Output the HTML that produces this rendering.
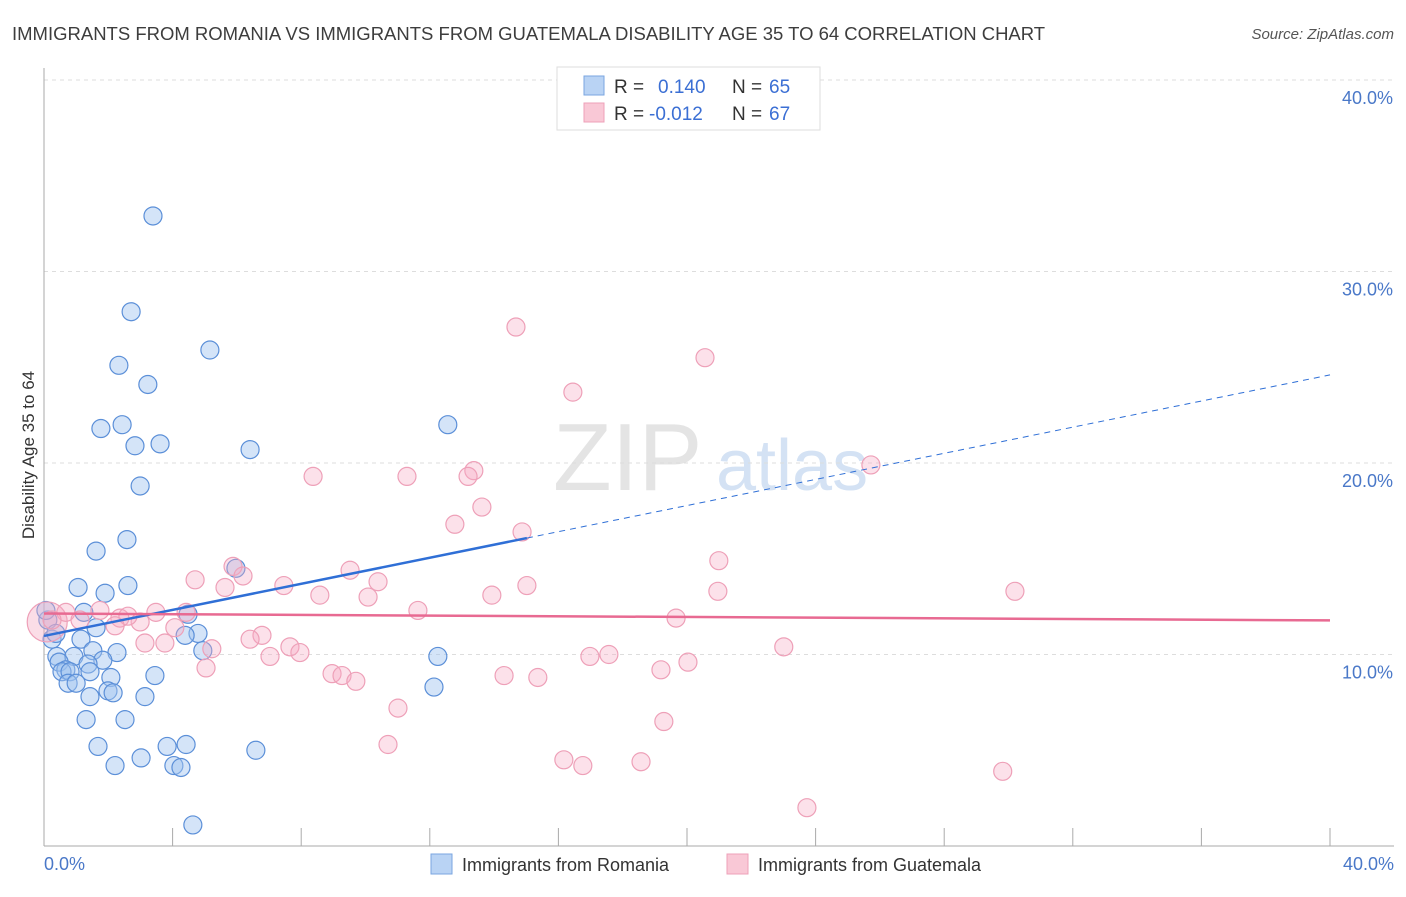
<!DOCTYPE html>
<html><head><meta charset="utf-8"><style>
body{margin:0;background:#fff;font-family:"Liberation Sans",sans-serif;}
svg text{font-family:"Liberation Sans",sans-serif;}
</style></head><body>
<svg id="chart" width="1406" height="892">
<text x="12" y="40" font-size="18.5" fill="#3d3d3d">IMMIGRANTS FROM ROMANIA VS IMMIGRANTS FROM GUATEMALA DISABILITY AGE 35 TO 64 CORRELATION CHART</text>
<text x="1394" y="39" font-size="15" fill="#555" text-anchor="end" font-style="italic">Source: ZipAtlas.com</text>
<g>
<text x="553" y="490" font-size="96" font-family="Liberation Serif" fill="#e4e4e4">ZIP</text>
<text x="716" y="490" font-size="72" fill="#d4e2f4">atlas</text>
</g>
<g id="grid"></g>
<g id="axes"></g>
<g id="blue"></g>
<g id="pink"></g>
<g id="lines"></g>
<text x="34" y="455" font-size="17" fill="#333" text-anchor="middle" transform="rotate(-90 34 455)">Disability Age 35 to 64</text>
<text x="44" y="870" font-size="18" fill="#4a78c8">0.0%</text>
<text x="1394" y="870" font-size="18" fill="#4a78c8" text-anchor="end">40.0%</text>
<g>
<rect x="557" y="67" width="263" height="63" fill="#fff" stroke="#ddd"/>
<rect x="584" y="76" width="20" height="19" fill="#b9d3f4" stroke="#7aa6e0"/>
<rect x="584" y="103" width="20" height="19" fill="#f9c8d6" stroke="#eea0b8"/>
<text x="614" y="93" font-size="19" fill="#333">R = </text><text x="658" y="93" font-size="19" fill="#3b6fd4">0.140</text>
<text x="732" y="93" font-size="19" fill="#333">N = </text><text x="769" y="93" font-size="19" fill="#3b6fd4">65</text>
<text x="614" y="120" font-size="19" fill="#333">R = </text><text x="649" y="120" font-size="19" fill="#3b6fd4">-0.012</text>
<text x="732" y="120" font-size="19" fill="#333">N = </text><text x="769" y="120" font-size="19" fill="#3b6fd4">67</text>
</g>
<g>
<rect x="431" y="854" width="21" height="20" fill="#b9d3f4" stroke="#7aa6e0"/>
<text x="462" y="871" font-size="18" fill="#333">Immigrants from Romania</text>
<rect x="727" y="854" width="21" height="20" fill="#f9c8d6" stroke="#eea0b8"/>
<text x="758" y="871" font-size="18" fill="#333">Immigrants from Guatemala</text>
</g>
</svg>
<script>
const yTicks=[10,20,30,40];
const yTickLabels=["10.0%","20.0%","30.0%","40.0%"];
const xTicks=[0,4,8,12,16,20,24,28,32,36,40];
const blueX=[3.39,2.71,5.16,2.33,3.23,2.43,1.77,3.61,2.83,6.41,12.56,2.99,1.62,2.58,2.61,1.06,1.90,5.97,1.24,4.48,1.62,0.12,0.25,1.15,4.79,4.39,2.27,1.52,0.40,0.93,1.83,0.47,1.37,0.68,0.56,0.81,2.08,1.43,0.75,1.00,1.99,2.15,1.43,3.14,12.25,12.13,1.31,2.52,1.68,3.83,4.42,2.21,3.02,4.04,4.26,6.59,4.63,4.94,0.06,0.37,3.45];
const blueY=[32.9,27.9,25.9,25.1,24.1,22.0,21.8,21.0,20.9,20.7,22.0,18.8,15.4,16.0,13.6,13.5,13.2,14.5,12.2,12.1,11.4,11.8,10.8,10.8,11.1,11.0,10.1,10.2,9.9,9.9,9.7,9.6,9.5,9.2,9.1,9.1,8.8,9.1,8.5,8.5,8.1,8.0,7.8,7.8,9.9,8.3,6.6,6.6,5.2,5.2,5.3,4.2,4.6,4.2,4.1,5.0,1.1,10.2,12.3,11.1,8.9];
const pinkX=[14.68,20.56,16.45,8.37,11.29,13.37,13.19,25.72,13.62,12.78,14.87,20.99,5.88,6.19,9.52,4.70,7.46,10.39,15.02,5.63,8.58,10.08,13.93,20.96,30.20,11.63,3.48,4.42,1.74,0.68,0.25,2.36,2.99,2.61,4.07,6.78,6.41,3.14,3.76,5.22,7.65,7.96,7.03,5.04,16.98,17.57,23.01,19.66,20.03,19.19,8.96,9.27,9.70,14.31,15.36,11.01,19.28,10.70,16.17,16.76,18.57,29.82,23.73,1.12,2.21];
const pinkY=[27.1,25.5,23.7,19.3,19.3,19.6,19.3,19.9,17.7,16.8,16.4,14.9,14.6,14.1,14.4,13.9,13.6,13.8,13.6,13.5,13.1,13.0,13.1,13.3,13.3,12.3,12.2,12.2,12.3,12.2,11.8,11.9,11.7,12.0,11.4,11.0,10.8,10.6,10.6,10.3,10.4,10.1,9.9,9.3,9.9,10.0,10.4,11.9,9.6,9.2,9.0,8.9,8.6,8.9,8.8,7.2,6.5,5.3,4.5,4.2,4.4,3.9,2.0,11.8,11.5];
const bigPink=[0.1,11.7];
const blueTrend=[10.97,16.08,24.6]; // at x=0, x=15.02, x=40
const blueSolidEnd=15.02;
const pinkTrend=[12.14,11.78];
const NS="http://www.w3.org/2000/svg";
const X=v=>44+v/40*1286, Y=v=>846-v*19.15;
function mk(tag,attrs,parent){const e=document.createElementNS(NS,tag);for(const k in attrs)e.setAttribute(k,attrs[k]);parent.appendChild(e);return e;}
const grid=document.getElementById('grid'),axes=document.getElementById('axes');
yTicks.forEach((t,i)=>{
 const l=mk('line',{x1:44,x2:1394,y1:Y(t),y2:Y(t),stroke:'#ddd','stroke-dasharray':'4,4'},grid);
 
 
 const tx=mk('text',{x:1393,y:Y(t)+24,'font-size':18,fill:'#4a78c8','text-anchor':'end'},axes);
 tx.textContent=yTickLabels[i];
 
 
});
const la=mk('line',{x1:44,x2:44,y1:68,y2:846,stroke:'#aaa'},axes);


const ba=mk('line',{x1:44,x2:1394,y1:846,y2:846,stroke:'#aaa'},axes);


xTicks.forEach(t=>{
 const l=mk('line',{x1:X(t),x2:X(t),y1:828,y2:846,stroke:'#aaa'},axes);
 
 
});
const bg=document.getElementById('blue'),pg=document.getElementById('pink');
const bp=mk('circle',{cx:X(bigPink[0]),cy:Y(bigPink[1]),r:20,fill:'rgba(245,170,195,0.4)',stroke:'#eea0b8','stroke-width':1.2},pg);


blueX.forEach((x,i)=>{
 const c=mk('circle',{cx:X(x),cy:Y(blueY[i]),r:9,fill:'rgba(160,196,240,0.45)',stroke:'#5b8fd8','stroke-width':1.2},bg);
 
 
});
pinkX.forEach((x,i)=>{
 const c=mk('circle',{cx:X(x),cy:Y(pinkY[i]),r:9,fill:'rgba(245,170,195,0.35)',stroke:'#eea0b8','stroke-width':1.2},pg);
 
 
});
const lg=document.getElementById('lines');
const l1=mk('line',{x1:X(0),y1:Y(blueTrend[0]),x2:X(blueSolidEnd),y2:Y(blueTrend[1]),stroke:'#2f6fd6','stroke-width':2.5},lg);


const l2=mk('line',{x1:X(blueSolidEnd),y1:Y(blueTrend[1]),x2:X(40),y2:Y(blueTrend[2]),stroke:'#2f6fd6','stroke-width':1,'stroke-dasharray':'6,5'},lg);


const l3=mk('line',{x1:X(0),y1:Y(pinkTrend[0]),x2:X(40),y2:Y(pinkTrend[1]),stroke:'#e86a92','stroke-width':2.5},lg);


</script>
</body></html>
